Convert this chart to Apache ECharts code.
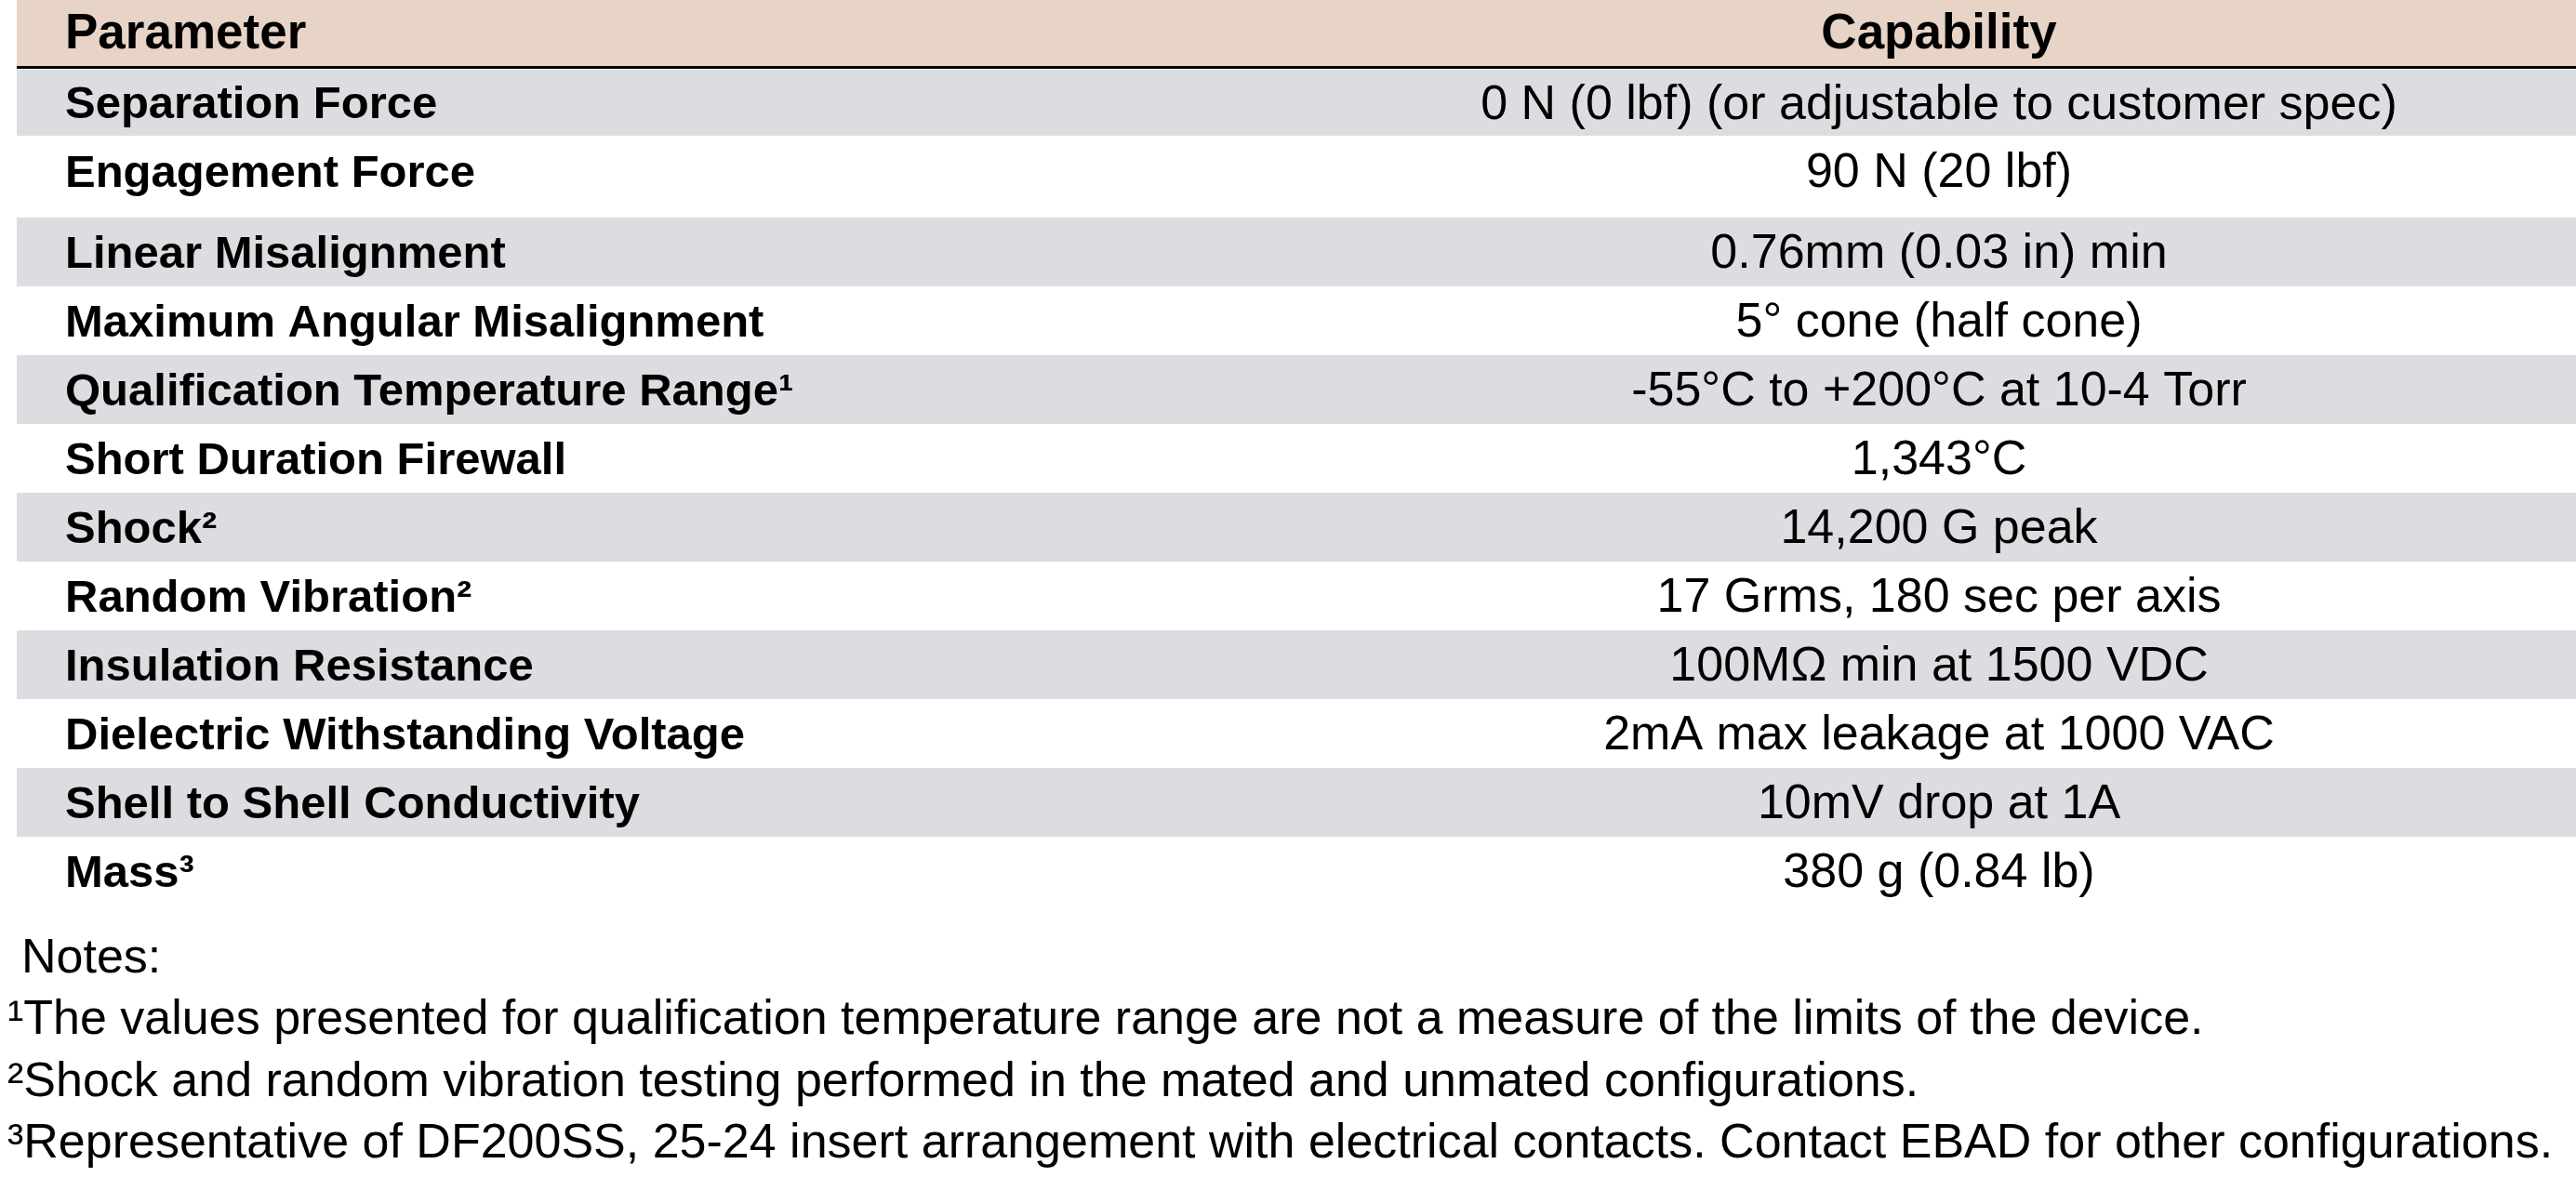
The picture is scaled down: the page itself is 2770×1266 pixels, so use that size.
<!DOCTYPE html>
<html><head><meta charset="utf-8">
<script src="https://cdn.jsdelivr.net/npm/echarts@6/dist/echarts.min.js"></script>
<style>html,body{margin:0;padding:0;background:#fff}#c{width:2770px;height:1266px}</style>
</head><body><div id="c"></div>
<script>
const headers = ["Parameter", "Capability"];
const parameters = ["Separation Force","Engagement Force","Linear Misalignment","Maximum Angular Misalignment","Qualification Temperature Range¹","Short Duration Firewall","Shock²","Random Vibration²","Insulation Resistance","Dielectric Withstanding Voltage","Shell to Shell Conductivity","Mass³"];
const capabilities = ["0 N (0 lbf) (or adjustable to customer spec)","90 N (20 lbf)","0.76mm (0.03 in) min","5° cone (half cone)","-55°C to +200°C at 10-4 Torr","1,343°C","14,200 G peak","17 Grms, 180 sec per axis","100MΩ min at 1500 VDC","2mA max leakage at 1000 VAC","10mV drop at 1A","380 g (0.84 lb)"];
const notes = ["Notes:","¹The values presented for qualification temperature range are not a measure of the limits of the device.","²Shock and random vibration testing performed in the mated and unmated configurations.","³Representative of DF200SS, 25-24 insert arrangement with electrical contacts. Contact EBAD for other configurations."];

const L = 18, R = 2770, textX = 70, capX = 2085, font = '"Liberation Sans", Arial, sans-serif';
const headerH = 71, rowHs = [71, 88, 74, 74, 74, 74, 74, 74, 74, 74, 74, 74];
const g = [];
g.push({type:'rect', shape:{x:L,y:0,width:R-L,height:headerH}, style:{fill:'#e7d4c6'}});
g.push({type:'text', x:textX, y:headerH/2+2, style:{text:headers[0], font:'bold 53px '+font, fill:'#000', textVerticalAlign:'middle'}});
g.push({type:'text', x:capX, y:headerH/2+2, style:{text:headers[1], font:'bold 53px '+font, fill:'#000', textAlign:'center', textVerticalAlign:'middle'}});
let y = headerH + 4;
parameters.forEach((p, i) => {
  const h = rowHs[i];
  if (i % 2 === 0) g.push({type:'rect', shape:{x:L,y:y,width:R-L,height:h}, style:{fill:'#dcdde0'}});
  const cy = ((i === 1) ? y + h/2 - 6 : y + h/2) + 3;
  g.push({type:'text', x:textX, y:cy, style:{text:p, font:'bold 49px '+font, fill:'#000', textVerticalAlign:'middle'}});
  g.push({type:'text', x:capX, y:cy, style:{text:capabilities[i], font:'52px '+font, fill:'#000', textAlign:'center', textVerticalAlign:'middle'}});
  y += h;
});
g.push({type:'rect', shape:{x:L,y:headerH,width:R-L,height:3}, style:{fill:'#000'}});
const noteY = [1032, 1098, 1165, 1231], noteX = [23, 8, 8, 8];
notes.forEach((n, i) => g.push({type:'text', x:noteX[i], y:noteY[i], style:{text:n, font:'52px '+font, fill:'#000', textVerticalAlign:'middle'}}));

const chart = echarts.init(document.getElementById('c'));
chart.setOption({animation:false, graphic:g});
</script></body></html>
